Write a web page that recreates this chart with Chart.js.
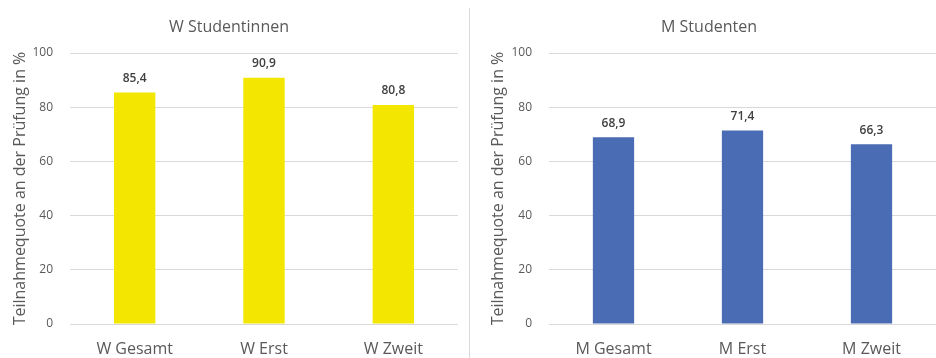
<!DOCTYPE html>
<html>
<head>
<meta charset="utf-8">
<script src="https://cdn.jsdelivr.net/npm/chart.js@4/dist/chart.umd.min.js"></script>
<style>
  html, body { margin: 0; padding: 0; background: #fff; }
  body { width: 936px; height: 358px; position: relative; overflow: hidden; }
  canvas { display: block; }
  #cL { position: absolute; left: 0; top: 0; }
  #cR { position: absolute; left: 470px; top: 0; }
  #sep { position: absolute; left: 469px; top: 8px; width: 1px; height: 350px; background: #d9d9d9; }
</style>
</head>
<body>
<canvas id="cL" width="468" height="358"></canvas>
<div id="sep"></div>
<canvas id="cR" width="466" height="358"></canvas>
<script>
const womenCategories = ["W Gesamt", "W Erst", "W Zweit"];
const womenValues = [85.4, 90.9, 80.8];
const menCategories = ["M Gesamt", "M Erst", "M Zweit"];
const menValues = [68.9, 71.4, 66.3];
const yTicks = [0, 20, 40, 60, 80, 100];
const yAxisTitle = "Teilnahmequote an der Prüfung in %";
const leftTitle = "W Studentinnen";
const rightTitle = "M Studenten";

const FONT = "'Open Sans', 'Noto Sans', sans-serif";
const GREY = "#595959";

const valueLabels = {
  id: 'valueLabels',
  afterDatasetsDraw(chart) {
    const ctx = chart.ctx;
    ctx.save();
    ctx.font = "600 12px " + FONT;
    ctx.fillStyle = "#404040";
    ctx.textAlign = "center";
    ctx.textBaseline = "middle";
    chart.data.datasets.forEach((ds, i) => {
      const meta = chart.getDatasetMeta(i);
      meta.data.forEach((bar, j) => {
        const v = ds.data[j];
        ctx.fillText(v.toFixed(1).replace('.', ','), bar.x, bar.y - 14);
      });
    });
    ctx.restore();
  }
};

function makeChart(id, labels, values, color, title, yWidth, padLeft, padRight, yTitlePad) {
  return new Chart(document.getElementById(id), {
    type: 'bar',
    data: {
      labels: labels,
      datasets: [{
        data: values,
        backgroundColor: color,
        borderWidth: 0,
        barPercentage: 0.4,
        categoryPercentage: 0.8
      }]
    },
    options: {
      responsive: false,
      animation: false,
      layout: { padding: { left: padLeft, right: padRight, top: 0, bottom: 0 } },
      plugins: {
        legend: { display: false },
        tooltip: { enabled: false },
        title: {
          display: true,
          text: title,
          color: GREY,
          font: { family: FONT, size: 16, weight: 'normal', lineHeight: 1.2 },
          padding: { top: 17.4, bottom: 16.4 }
        }
      },
      scales: {
        x: {
          grid: { display: false },
          border: { display: false },
          afterFit(scale) { scale.height = 34; },
          ticks: { color: GREY, font: { family: FONT, size: 16, lineHeight: 1.2 }, padding: 7.4 }
        },
        y: {
          min: 0,
          max: 100,
          afterBuildTicks(scale) { scale.ticks = yTicks.map(v => ({ value: v })); },
          afterFit(scale) { scale.width = yWidth; },
          grid: { color: "#d9d9d9", drawTicks: false, lineWidth: 1 },
          border: { display: false },
          ticks: { color: GREY, font: { family: FONT, size: 12 }, padding: 17 },
          title: {
            display: true,
            text: yAxisTitle,
            color: GREY,
            font: { family: FONT, size: 16, lineHeight: 1.2 },
            padding: { top: yTitlePad, bottom: 0 }
          }
        }
      }
    },
    plugins: [valueLabels]
  });
}

makeChart('cL', womenCategories, womenValues, '#F3E600', leftTitle, 70, 0, 10, 10.4);
makeChart('cR', menCategories, menValues, '#4A6CB4', rightTitle, 67, 12, 0, 6.4);
</script>
</body>
</html>
